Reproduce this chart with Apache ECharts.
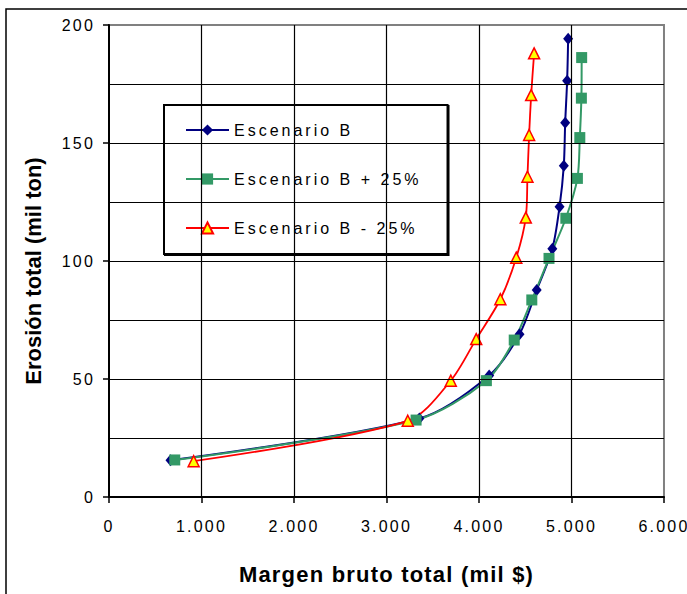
<!DOCTYPE html>
<html>
<head>
	<title>Erosión total vs margen bruto</title>
	<meta http-equiv="Content-Type" content="text/html; charset=utf-8">
	<script type="text/javascript" src="https://cdn.jsdelivr.net/npm/echarts@6/dist/echarts.min.js"></script>
	<style>
		* {
			margin: 0;
			padding: 0;
			box-sizing: border-box;
		}

		body {
			overflow: hidden;
			background-color: #fff;
		}

		#chart {
			width: 687px;
			height: 594px;
		}
	</style>
</head>
<body>
<div id="chart"></div>
<script>
	// series names
	var seriesNames = ['Escenario B', 'Escenario B + 25%', 'Escenario B - 25%'];

	// Escenario B (margen, erosion)
	var escB_x = [665, 3355, 4110, 4438, 4624, 4793, 4871, 4917, 4932, 4953, 4964];
	var escB_y = [15.6, 33.3, 51.5, 69, 87.7, 105.2, 123, 140.4, 158.6, 176.4, 194.2];

	// Escenario B + 25%
	var escBmas_x = [711, 3320, 4080, 4381, 4571, 4757, 4939, 5064, 5090, 5107, 5110];
	var escBmas_y = [15.7, 32.6, 49.3, 66.5, 83.5, 101.1, 118.1, 135, 152.3, 169, 186.2];

	// Escenario B - 25%
	var escBmenos_x = [915, 3230, 3695, 3970, 4231, 4403, 4506, 4524, 4542, 4564, 4596];
	var escBmenos_y = [15.2, 32.3, 49.3, 66.9, 83.8, 101.4, 118.4, 135.7, 153.4, 170.3, 188];

	// tick labels
	var xTicks = [0, 1000, 2000, 3000, 4000, 5000, 6000];
	var xTickLabels = ['0', '1.000', '2.000', '3.000', '4.000', '5.000', '6.000'];
	var yTicks = [0, 50, 100, 150, 200];

	var xTitle = 'Margen bruto total (mil $)';
	var yTitle = 'Erosión total (mil ton)';

	function zip(xs, ys) {
		var out = [];
		for (var i = 0; i < xs.length; i++) {
			out.push([xs[i], ys[i]]);
		}
		return out;
	}

	var FONT = 'Liberation Sans, Arial, sans-serif';

	var chart = echarts.init(document.getElementById('chart'), null, {renderer: 'svg'});

	var option = {
		animation: false,
		backgroundColor: '#fff',
		grid: {
			left: 109,
			right: 18,
			top: 25,
			bottom: 97,
			show: true,
			backgroundColor: '#fff',
			borderColor: '#808080',
			borderWidth: 2
		},
		legend: {
			orient: 'vertical',
			left: 164,
			top: 105,
			data: seriesNames,
			itemWidth: 43,
			itemHeight: 14,
			itemGap: 33,
			itemTextGap: 6,
			padding: [17, 77, 18, 21],
			backgroundColor: '#fff',
			borderColor: '#000',
			borderWidth: 2,
			shadowColor: '#000',
			shadowOffsetX: 1,
			shadowOffsetY: 1,
			textStyle: {
				fontFamily: FONT,
				fontSize: 16,
				color: '#000'
			}
		},
		graphic: [
			{
				type: 'rect',
				shape: {x: 6, y: 9, width: 720, height: 700},
				style: {fill: 'none', stroke: '#000', lineWidth: 1.5},
				silent: true,
				z: 0
			},
			{
				type: 'text',
				x: 33,
				y: 271,
				rotation: Math.PI / 2,
				style: {
					text: yTitle,
					font: 'bold 22px ' + FONT,
					fill: '#000',
					textAlign: 'center',
					textVerticalAlign: 'middle'
				}
			}
		],
		xAxis: {
			type: 'value',
			min: xTicks[0],
			max: xTicks[xTicks.length - 1],
			interval: 1000,
			z: 5,
			name: xTitle,
			nameLocation: 'middle',
			nameGap: 66,
			nameTextStyle: {
				fontFamily: FONT,
				fontSize: 22,
				fontWeight: 'bold',
				color: '#000'
			},
			axisLine: {lineStyle: {color: '#000', width: 2}},
			axisTick: {show: true, length: 6, lineStyle: {color: '#000', width: 1.5}},
			axisLabel: {
				fontFamily: FONT,
				fontSize: 16,
				color: '#000',
				margin: 21,
				formatter: function (v) {
					var i = xTicks.indexOf(v);
					return i >= 0 ? xTickLabels[i] : '';
				}
			},
			splitLine: {
				show: true,
				showMinLine: false,
				showMaxLine: false,
				lineStyle: {color: '#000', width: 1.2}
			}
		},
		yAxis: {
			type: 'value',
			min: yTicks[0],
			max: yTicks[yTicks.length - 1],
			interval: 50,
			z: 5,
			axisLine: {show: true, lineStyle: {color: '#000', width: 2}},
			axisTick: {show: true, length: 6, lineStyle: {color: '#000', width: 1.5}},
			minorTick: {show: false, splitNumber: 2},
			minorSplitLine: {show: true, lineStyle: {color: '#000', width: 1.2}},
			axisLabel: {
				fontFamily: FONT,
				fontSize: 16,
				color: '#000',
				margin: 14
			},
			splitLine: {
				show: true,
				showMinLine: false,
				showMaxLine: false,
				lineStyle: {color: '#000', width: 1.2}
			}
		},
		series: [
			{
				name: seriesNames[0],
				type: 'line',
				smooth: 0.3,
				data: zip(escB_x, escB_y),
				symbol: 'diamond',
				symbolSize: [10, 12],
				color: '#000080',
				lineStyle: {width: 2, color: '#000080'},
				itemStyle: {color: '#000080'},
				z: 3
			},
			{
				name: seriesNames[1],
				type: 'line',
				smooth: 0.3,
				data: zip(escBmas_x, escBmas_y),
				symbol: 'rect',
				symbolSize: 11,
				color: '#339966',
				lineStyle: {width: 2, color: '#339966'},
				itemStyle: {color: '#339966'},
				z: 3
			},
			{
				name: seriesNames[2],
				type: 'line',
				smooth: 0.3,
				data: zip(escBmenos_x, escBmenos_y),
				symbol: 'triangle',
				symbolSize: 11,
				color: '#ff0000',
				lineStyle: {width: 1.8, color: '#ff0000'},
				itemStyle: {color: '#ffff00', borderColor: '#ff0000', borderWidth: 1.5},
				z: 3
			}
		]
	};

	chart.setOption(option);

	// the original chart uses widely spaced lettering; the library has no
	// letter-spacing option so it is added on the svg text afterwards
	var texts = document.querySelectorAll('#chart svg text');
	for (var i = 0; i < texts.length; i++) {
		var t = texts[i];
		var s = t.textContent;
		var sp = null;
		if (s.indexOf('Escenario') === 0) {
			sp = '3px';
		} else if (s === xTitle) {
			sp = '1.2px';
		} else if (/^[0-9.]+$/.test(s)) {
			sp = '2.2px';
		}
		if (sp) {
			t.setAttribute('letter-spacing', sp);
			t.style.letterSpacing = sp;
		}
	}
</script>
</body>
</html>
